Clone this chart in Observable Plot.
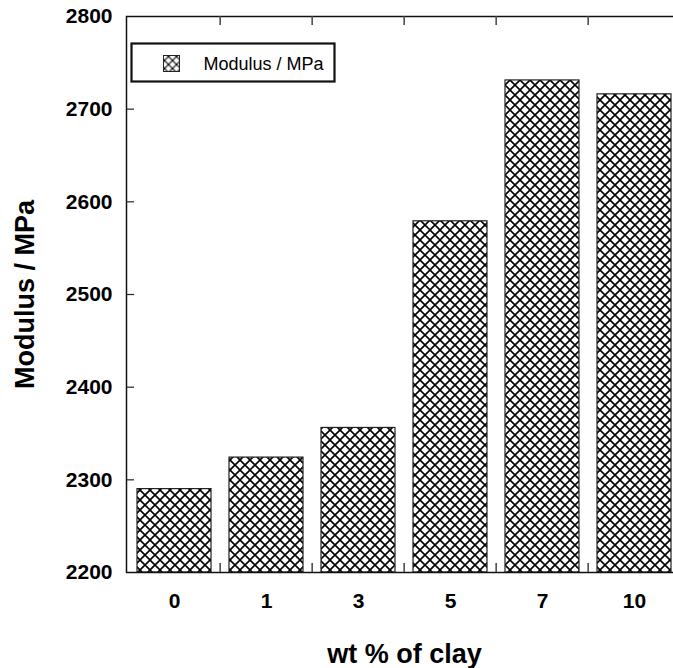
<!DOCTYPE html>
<html><head><meta charset="utf-8">
<script src="https://cdn.jsdelivr.net/npm/d3@7"></script>
<script src="https://cdn.jsdelivr.net/npm/@observablehq/plot@0.6"></script>
<style>html,body{margin:0;padding:0;overflow:hidden;background:#fff}#chart{width:673px;height:668px;overflow:hidden}</style>
</head><body><div id="chart"></div>
<script>
const clay = ["0","1","3","5","7","10"];
const modulus = [2290, 2324, 2356, 2579, 2731, 2716];
const yTicks = [2200, 2300, 2400, 2500, 2600, 2700, 2800];
const seriesName = "Modulus / MPa";
const xTitle = "wt % of clay";
const yTitle = "Modulus / MPa";

const data = clay.map((c, i) => ({clay: c, modulus: modulus[i]}));

const W = 690, H = 668, mL = 126, mR = 8, mT = 16, mB = 96;
const plotW = W - mL - mR, plotH = H - mT - mB;
const step = plotW / clay.length;
const font = "'Liberation Sans', Arial, Helvetica, sans-serif";

const chart = Plot.plot({
  width: W, height: H,
  marginLeft: mL, marginRight: mR, marginTop: mT, marginBottom: mB,
  style: {fontFamily: font, background: "white", color: "black", maxWidth: "none", width: W + "px", height: H + "px"},
  x: {domain: clay, paddingInner: 0.2, paddingOuter: 0.1, axis: null},
  y: {domain: [2200, 2800], axis: null},
  marks: [
    Plot.barY(data, {x: "clay", y1: 2200, y2: "modulus", fill: "url(#xhatch)", stroke: "#222", strokeWidth: 1.2}),
    Plot.frame({stroke: "#111", strokeWidth: 1.5}),
    Plot.ruleY(yTicks.slice(1, -1), {stroke: "#222", strokeWidth: 1.2, insetRight: plotW - 8}),
    Plot.ruleX(clay.slice(1), {x: d => d, dx: -step / 2, stroke: "#444", strokeWidth: 1.5, insetBottom: plotH - 9}),
    Plot.ruleX(clay.slice(1), {x: d => d, dx: -step / 2, stroke: "#444", strokeWidth: 1.5, insetTop: plotH - 9}),
    Plot.axisX({tickSize: 0, tickPadding: 21, fontSize: 21, fontWeight: "bold", label: null}),
    Plot.axisY({ticks: yTicks, tickSize: 0, tickPadding: 14, fontSize: 21, fontWeight: "bold", label: null, tickFormat: d => String(d)}),
    Plot.text([xTitle], {frameAnchor: "bottom", dy: 90, lineAnchor: "bottom", textAnchor: "middle", fontSize: 27, fontWeight: "bold"}),
    Plot.text([yTitle], {frameAnchor: "left", dx: 33 - mL, rotate: -90, lineAnchor: "bottom", textAnchor: "middle", fontSize: 27, fontWeight: "bold"}),
    // legend box
    Plot.frame({stroke: "#111", strokeWidth: 2.2, fill: "white", insetLeft: 5, insetTop: 27, insetRight: plotW - 208, insetBottom: plotH - 65}),
    Plot.frame({stroke: "#222", strokeWidth: 1, fill: "url(#xhatch2)", insetLeft: 37, insetTop: 39, insetRight: plotW - 53, insetBottom: plotH - 55}),
    Plot.text([seriesName], {frameAnchor: "top-left", dx: 77, dy: 53, lineAnchor: "bottom", textAnchor: "start", fontSize: 18, fontWeight: "normal"})
  ]
});

const svg = d3.select(chart);
const defs = svg.insert("defs", ":first-child");
function hatch(id, s, sw) {
  const p = defs.append("pattern").attr("id", id).attr("patternUnits", "userSpaceOnUse")
    .attr("width", s).attr("height", s);
  p.append("rect").attr("width", s).attr("height", s).attr("fill", "white");
  p.append("path")
    .attr("d", `M${-s},${-s}L${2*s},${2*s}M${2*s},${-s}L${-s},${2*s}`)
    .attr("stroke", "black").attr("stroke-width", sw).attr("fill", "none");
}
hatch("xhatch", 10, 1.6);
hatch("xhatch2", 8, 1.1);

document.getElementById("chart").appendChild(chart);
</script>
</body></html>
